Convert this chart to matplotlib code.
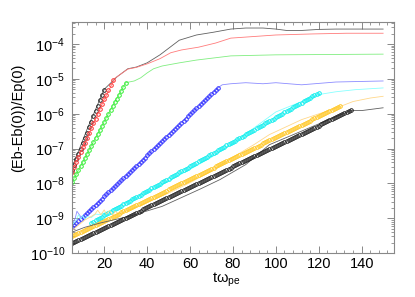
import numpy as np
import matplotlib.pyplot as plt
from matplotlib.ticker import FixedLocator, MultipleLocator, LogLocator, NullFormatter

plt.rcParams['font.family'] = ['Liberation Sans', 'DejaVu Sans']
plt.rcParams['mathtext.fontset'] = 'custom'
plt.rcParams['mathtext.rm'] = 'Liberation Sans'
plt.rcParams['mathtext.it'] = 'Liberation Sans:italic'

# simulation curves: t*w_pe and log10((Eb-Eb(0))/Ep(0))
t_k1 = [5, 12, 20, 26, 31, 35, 40, 46, 55, 63, 71, 79, 86, 94, 100, 105, 112, 120, 128, 150]
v_k1 = [-7.55, -6.45, -5.3, -4.94, -4.71, -4.66, -4.54, -4.31, -3.89, -3.74, -3.66, -3.57,
        -3.54, -3.54, -3.57, -3.61, -3.61, -3.58, -3.57, -3.57]

t_r = [5, 12, 20, 25, 31, 35, 40, 46, 51, 56, 64, 72, 79, 86, 100, 117, 133, 150]
v_r = [-7.66, -6.7, -5.6, -4.98, -4.72, -4.67, -4.57, -4.42, -4.25, -4.17, -4.09, -3.97,
       -3.83, -3.8, -3.74, -3.71, -3.69, -3.69]

t_g = [5, 15, 25, 30, 34, 37, 40, 43, 47, 55, 63, 79, 100, 150]
v_g = [-7.97, -6.8, -5.65, -5.11, -5.06, -4.97, -4.83, -4.71, -4.63, -4.54, -4.46, -4.34, -4.31, -4.29]

t_b = [5, 6.5, 7.3, 8.2, 9.6, 12, 30, 50, 73, 75, 79, 86, 94, 100, 112, 128, 150]
v_b = [-9.2, -9.0, -8.8, -8.88, -9.0, -8.85, -7.8, -6.6, -5.26, -5.17, -5.14, -5.11, -5.14,
       -5.11, -5.17, -5.09, -5.06]

t_c = [5, 7, 8, 9, 10, 11, 12, 14, 16, 18, 22, 30, 40, 50, 60, 70, 80, 90, 100, 110, 120, 128,
       137, 150]
v_c = [-9.2, -9.05, -8.9, -9.02, -8.92, -9.03, -8.95, -8.98, -8.88, -8.9, -8.8, -8.55, -8.25,
       -7.93, -7.6, -7.25, -6.85, -6.4, -5.95, -5.7, -5.45, -5.37, -5.31, -5.26]

t_y = [5, 8, 11, 14, 15.7, 17, 18.5, 20, 21, 22.5, 24, 25, 27, 30, 40, 50, 60, 70, 80, 90, 97,
       112, 128, 136, 144, 150]
v_y = [-9.35, -9.2, -9.05, -8.95, -8.88, -8.77, -8.9, -8.76, -8.88, -8.78, -8.92, -8.8, -8.88,
       -8.8, -8.55, -8.28, -7.98, -7.64, -7.25, -6.88, -6.6, -6.17, -5.84, -5.65, -5.55, -5.5]

t_k2 = [5, 11, 18, 32, 47, 64.5, 74, 86, 97, 117, 135, 140, 150]
v_k2 = [-9.4, -9.26, -9.14, -8.94, -8.66, -8.17, -7.89, -7.46, -6.89, -6.37, -5.91, -5.91, -5.83]

curves_t = [t_k1, t_r, t_g, t_b, t_c, t_y, t_k2]
curves_v = [v_k1, v_r, v_g, v_b, v_c, v_y, v_k2]

# exponential fits (circles): start/end time, log10 value at start, growth in decades per unit t
fit_start = [5, 5, 5, 5, 14, 5, 5]
fit_end = [20, 24, 30, 73, 120, 130, 135]
fit_log0 = [-7.62, -7.66, -7.97, -9.26, -9.13, -9.525, -9.72]
fit_rate = [0.154, 0.138, 0.1146, 0.0589, 0.0352, 0.030, 0.0294]

x_ticks = [20, 40, 60, 80, 100, 120, 140]
y_ticks = [1e-10, 1e-9, 1e-8, 1e-7, 1e-6, 1e-5, 1e-4]

marker_colors = ['#222222', '#ff3333', '#33ee33', '#3333ff', '#11eeee', '#ffc826', '#222222']
line_colors = ['#606060', '#ff7b7b', '#80ee80', '#8c8cff', '#88ffff', '#ffd88a', '#606060']

fig = plt.figure(figsize=(4.15, 2.97), dpi=100)
ax = fig.add_axes([0.1735, 0.148, 0.7755, 0.778])

for i in range(len(curves_t)):
  ax.plot(curves_t[i], 10.0 ** np.array(curves_v[i]), '-', color=line_colors[i], linewidth=0.6)
  tf = np.arange(fit_start[i], fit_end[i] + 0.01, 1.0)
  yf = 10.0 ** (fit_log0[i] + fit_rate[i] * (tf - fit_start[i]))
  ax.plot(tf, yf, 'o', markerfacecolor='none', markeredgecolor=marker_colors[i],
          markersize=2.6, markeredgewidth=0.7)

ax.set_yscale('log')
ax.set_xlim(5, 155)
ax.set_ylim(1e-10, 4.3e-4)

ax.xaxis.set_major_locator(FixedLocator(x_ticks))
ax.xaxis.set_minor_locator(MultipleLocator(4))
ax.yaxis.set_major_locator(FixedLocator(y_ticks))
ax.yaxis.set_minor_locator(LogLocator(base=10, subs=np.arange(2, 10), numticks=15))
ax.yaxis.set_minor_formatter(NullFormatter())

for s in ax.spines.values():
  s.set_color('#888888')
  s.set_linewidth(0.8)
ax.tick_params(which='both', direction='in', top=True, right=True, color='#888888',
               labelsize=10.5)
ax.tick_params(which='major', length=5, width=0.7)
ax.tick_params(which='minor', length=2.5, width=0.6)
ax.tick_params(axis='x', pad=2.5)
ax.tick_params(axis='y', pad=5)

ax.set_ylabel('(Eb-Eb(0))/Ep(0)', fontsize=10.5)
ax.yaxis.set_label_coords(-0.146, 0.584)
ax.set_xlabel('tω$_{\\mathrm{pe}}$', fontsize=10.5)
ax.xaxis.set_label_coords(0.478, -0.075)

fig.savefig('out.png', dpi=100)
